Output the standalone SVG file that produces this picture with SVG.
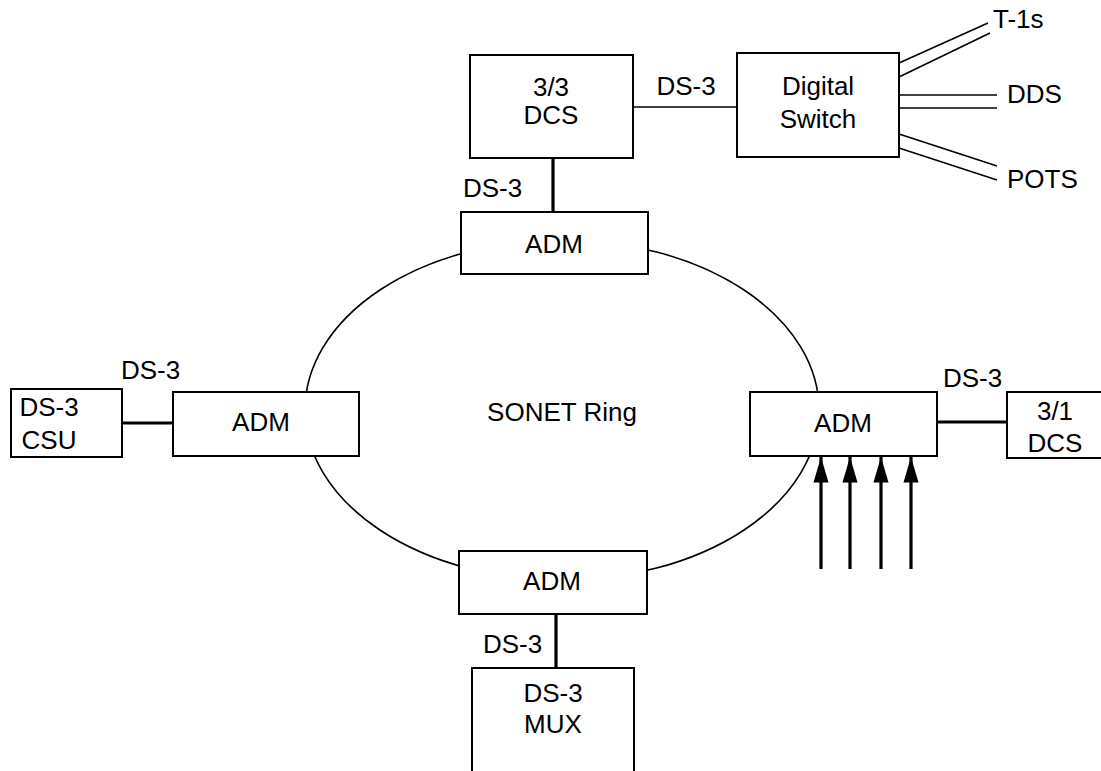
<svg xmlns="http://www.w3.org/2000/svg" width="1101" height="771" viewBox="0 0 1101 771">
<defs>
<style>
.box{fill:#fff;stroke:#000;stroke-width:2}
.t{font-family:"Liberation Sans",Arial,sans-serif;font-size:26px;fill:#000}
.m{text-anchor:middle}
.thin{stroke:#000;stroke-width:1.6;fill:none}
.thick{stroke:#000;stroke-width:3.2;fill:none}
</style>
<marker id="ah" viewBox="0 0 10 10" refX="10" refY="5" markerWidth="8" markerHeight="4.7" markerUnits="strokeWidth" orient="auto" preserveAspectRatio="none">
<path d="M0,0 L10,5 L0,10 z" fill="#000"/>
</marker>
</defs>
<rect width="1101" height="771" fill="#fff"/>
<g id="ring">
<ellipse cx="562" cy="410" rx="257" ry="170" class="thin"/>
<text class="t m" x="562" y="421">SONET Ring</text>
</g>
<g id="connectors">
<line class="thin" x1="633" y1="107" x2="737" y2="107"/>
<line class="thick" x1="553" y1="158" x2="553" y2="212"/>
<line class="thick" x1="556" y1="614" x2="556" y2="668"/>
<line class="thick" x1="122" y1="423" x2="173" y2="423"/>
<line class="thick" x1="937" y1="422" x2="1007" y2="422"/>
<line class="thin" x1="899" y1="63" x2="988" y2="23"/>
<line class="thin" x1="899" y1="77" x2="990" y2="33"/>
<line class="thin" x1="899" y1="95" x2="997" y2="95"/>
<line class="thin" x1="899" y1="108" x2="997" y2="108"/>
<line class="thin" x1="899" y1="134" x2="997" y2="166"/>
<line class="thin" x1="899" y1="148" x2="997" y2="180"/>
<line class="thick" x1="821" y1="569" x2="821" y2="457" marker-end="url(#ah)"/>
<line class="thick" x1="850" y1="569" x2="850" y2="457" marker-end="url(#ah)"/>
<line class="thick" x1="881" y1="569" x2="881" y2="457" marker-end="url(#ah)"/>
<line class="thick" x1="911" y1="569" x2="911" y2="457" marker-end="url(#ah)"/>
<text class="t m" x="686" y="95">DS-3</text>
<text class="t" x="463" y="197">DS-3</text>
<text class="t" x="121" y="379">DS-3</text>
<text class="t" x="943" y="387">DS-3</text>
<text class="t" x="483" y="653">DS-3</text>
<text class="t" x="993" y="28">T-1s</text>
<text class="t" x="1007" y="103">DDS</text>
<text class="t" x="1007" y="188">POTS</text>
</g>
<g id="dcs33">
<rect class="box" x="470" y="55" width="163" height="103"/>
<text class="t m" x="551" y="96">3/3</text>
<text class="t m" x="551" y="124">DCS</text>
</g>
<g id="digitalswitch">
<rect class="box" x="737" y="53" width="162" height="104"/>
<text class="t m" x="818" y="95">Digital</text>
<text class="t m" x="818" y="128">Switch</text>
</g>
<g id="adm-top">
<rect class="box" x="461" y="212" width="187" height="62"/>
<text class="t m" x="554" y="253">ADM</text>
</g>
<g id="adm-left">
<rect class="box" x="173" y="392" width="186" height="64"/>
<text class="t m" x="261" y="431">ADM</text>
</g>
<g id="adm-right">
<rect class="box" x="750" y="392" width="187" height="64"/>
<text class="t m" x="843" y="432">ADM</text>
</g>
<g id="adm-bottom">
<rect class="box" x="459" y="551" width="188" height="63"/>
<text class="t m" x="552" y="590">ADM</text>
</g>
<g id="csu">
<rect class="box" x="11" y="389" width="111" height="68"/>
<text class="t m" x="49" y="416">DS-3</text>
<text class="t m" x="49" y="449">CSU</text>
</g>
<g id="dcs31">
<rect class="box" x="1007" y="392" width="110" height="66"/>
<text class="t m" x="1055" y="420">3/1</text>
<text class="t m" x="1055" y="452">DCS</text>
</g>
<g id="mux">
<rect class="box" x="472" y="668" width="162" height="120"/>
<text class="t m" x="553" y="702">DS-3</text>
<text class="t m" x="553" y="733">MUX</text>
</g>
</svg>
